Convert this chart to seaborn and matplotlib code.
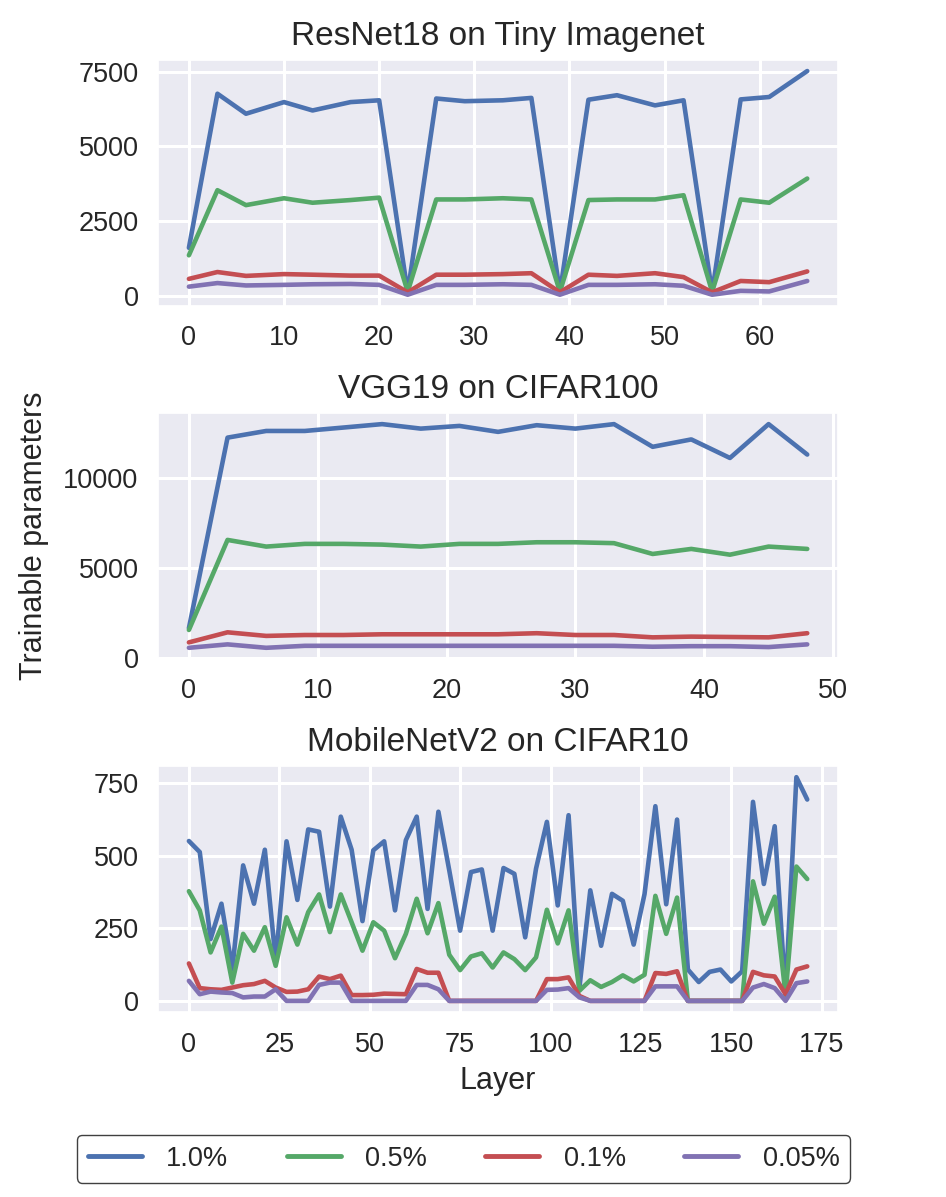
import pandas as pd
import seaborn as sns
import matplotlib.pyplot as plt
from matplotlib.ticker import MultipleLocator

sns.set_theme(style="darkgrid")
plt.rcParams["font.family"] = ["Liberation Sans", "DejaVu Sans"]

labels = ["1.0%", "0.5%", "0.1%", "0.05%"]
colors = [sns.color_palette("deep")[i] for i in (0, 2, 3, 4)]

# ResNet18 on Tiny Imagenet
resnet_x = [0, 3, 6, 10, 13, 17, 20, 23, 26, 29, 33, 36, 39, 42, 45, 49, 52, 55, 58, 61, 65]
resnet_10 = [1600, 6760, 6090, 6480, 6200, 6480, 6540, 100, 6600, 6510, 6540, 6620, 100,
             6560, 6710, 6370, 6540, 100, 6570, 6650, 7520]
resnet_05 = [1350, 3530, 3030, 3260, 3110, 3200, 3280, 130, 3220, 3220, 3260, 3220, 130,
             3200, 3220, 3220, 3360, 130, 3220, 3110, 3920]
resnet_01 = [560, 790, 660, 720, 700, 670, 670, 110, 700, 700, 720, 750, 110,
             700, 660, 750, 620, 110, 490, 450, 810]
resnet_005 = [300, 420, 340, 360, 380, 390, 360, 30, 360, 360, 380, 360, 30,
              360, 360, 380, 330, 30, 160, 140, 490]

# VGG19 on CIFAR100
vgg_x = [0, 3, 6, 9, 12, 15, 18, 21, 24, 27, 30, 33, 36, 39, 42, 45, 48]
vgg_10 = [1650, 12230, 12600, 12600, 12790, 12980, 12730, 12880, 12550, 12920, 12730,
          12980, 11720, 12130, 11100, 12980, 11290]
vgg_05 = [1550, 6550, 6180, 6330, 6330, 6290, 6180, 6330, 6330, 6420, 6420, 6370, 5770,
          6050, 5730, 6180, 6050]
vgg_01 = [860, 1420, 1220, 1270, 1270, 1310, 1310, 1310, 1310, 1370, 1270, 1270, 1140,
          1180, 1160, 1140, 1370]
vgg_005 = [560, 750, 560, 670, 670, 670, 670, 670, 670, 670, 670, 670, 620, 650, 650, 600, 750]

# MobileNetV2 on CIFAR10
mobile_x = [0, 3, 6, 9, 12, 15, 18, 21, 24, 27, 30, 33, 36, 39, 42, 45, 48, 51, 54, 57,
            60, 63, 66, 69, 72, 75, 78, 81, 84, 87, 90, 93, 96, 99, 102, 105, 108, 111,
            114, 117, 120, 123, 126, 129, 132, 135, 138, 141, 144, 147, 150, 153, 156,
            159, 162, 165, 168, 171]
mobile_10 = [551, 513, 213, 335, 110, 467, 335, 521, 138, 550,
             348, 591, 583, 325, 635, 521, 275, 519, 550, 312,
             554, 635, 317, 652, 450, 242, 444, 453, 242, 458,
             438, 219, 456, 617, 329, 640, 46, 381, 190, 369,
             345, 194, 368, 671, 333, 625, 108, 65, 100, 108,
             67, 102, 686, 403, 602, 21, 771, 694]
mobile_05 = [378, 312, 167, 256, 63, 231, 173, 254, 121, 288,
             194, 306, 367, 237, 367, 271, 173, 271, 242, 147,
             231, 352, 233, 337, 159, 106, 153, 164, 115, 167,
             144, 106, 150, 314, 198, 312, 35, 71, 48, 65,
             88, 67, 90, 362, 231, 356, 0, 0, 0, 0,
             0, 0, 412, 266, 359, 21, 463, 420]
mobile_01 = [129, 44, 40, 38, 46, 54, 58, 69, 46, 31,
             32, 40, 84, 75, 87, 20, 20, 21, 25, 24,
             23, 110, 97, 97, 0, 0, 0, 0, 0, 0,
             0, 0, 0, 75, 75, 81, 17, 0, 0, 0,
             0, 0, 0, 96, 93, 102, 0, 0, 0, 0,
             0, 0, 100, 88, 84, 23, 108, 119]
mobile_005 = [69, 23, 32, 29, 27, 12, 15, 15, 40, 0,
              0, 0, 55, 63, 63, 0, 0, 0, 0, 0,
              0, 55, 55, 40, 0, 0, 0, 0, 0, 0,
              0, 0, 0, 38, 39, 44, 12, 0, 0, 0,
              0, 0, 0, 50, 50, 50, 0, 0, 0, 0,
              0, 0, 46, 58, 44, 0, 61, 67]

panels = [
    ("ResNet18 on Tiny Imagenet", resnet_x, [resnet_10, resnet_05, resnet_01, resnet_005], 10, 2500),
    ("VGG19 on CIFAR100", vgg_x, [vgg_10, vgg_05, vgg_01, vgg_005], 10, 5000),
    ("MobileNetV2 on CIFAR10", mobile_x, [mobile_10, mobile_05, mobile_01, mobile_005], 25, 250),
]

fig, axes = plt.subplots(3, 1, figsize=(9.46, 11.97), dpi=100)
fig.subplots_adjust(left=0.167, right=0.886, top=0.95, bottom=0.1545, hspace=0.435)

for ax, (title, xs, series, xstep, ystep) in zip(axes, panels):
    for vals, lab, col in zip(series, labels, colors):
        sns.lineplot(x=xs, y=vals, ax=ax, color=col, label=lab, linewidth=3.3)
    ax.set_title(title, fontsize=24, pad=11)
    ax.xaxis.set_major_locator(MultipleLocator(xstep))
    ax.yaxis.set_major_locator(MultipleLocator(ystep))
    ax.tick_params(labelsize=19.5, length=0, pad=14)
    ax.grid(linewidth=2.2)
    ax.get_legend().remove()

axes[1].set_ylabel("Trainable parameters", fontsize=22, labelpad=10)
axes[2].set_xlabel("Layer", fontsize=22, labelpad=6)

handles, _ = axes[0].get_legend_handles_labels()
leg = fig.legend(handles, labels, loc="lower center", bbox_to_anchor=(0.49, 0.012),
                 borderaxespad=0, ncol=4, fontsize=19.5, handlelength=2.0,
                 handletextpad=0.9, columnspacing=2.15, frameon=True, framealpha=1,
                 facecolor="white", edgecolor="0.25")
for line in leg.get_lines():
    line.set_linewidth(3.5)

plt.savefig("out.png", dpi=100, facecolor="white")
